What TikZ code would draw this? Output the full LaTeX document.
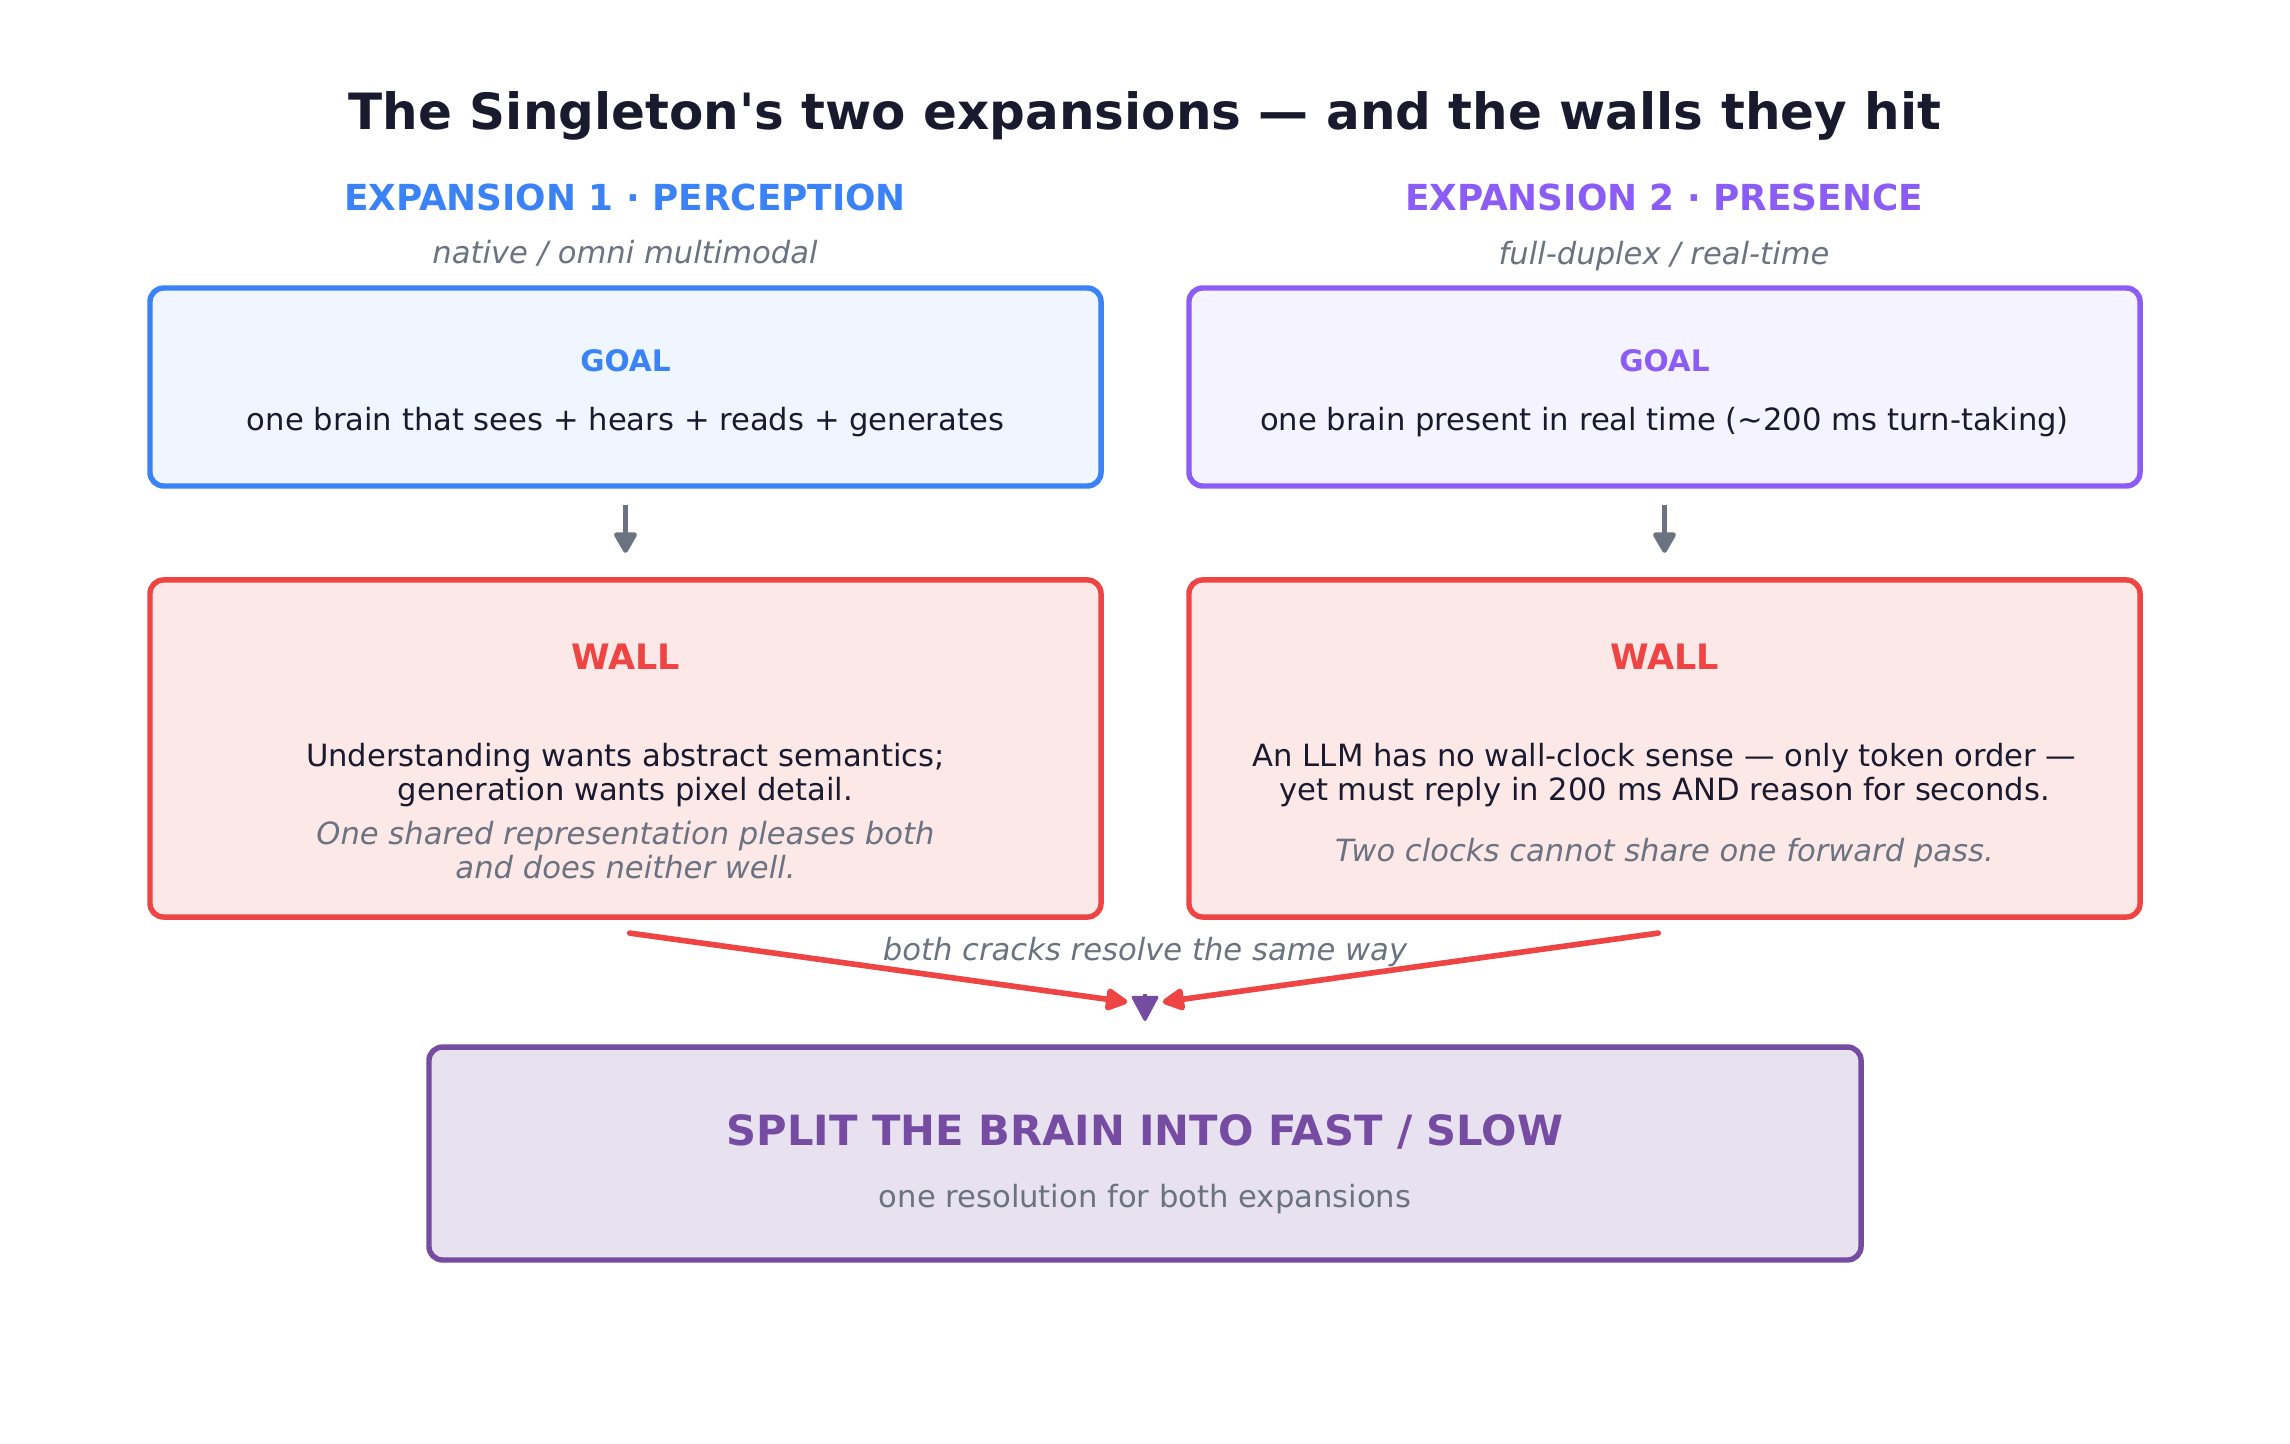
\documentclass[tikz,border=0pt]{standalone}
\usepackage{fontspec}
\setmainfont{DejaVu Sans}
\usepackage{xcolor}
\usepackage{tikz}
\usetikzlibrary{arrows.meta, positioning, calc}

\definecolor{inkdark}{HTML}{1A1A2E}
\definecolor{inkgray}{HTML}{6B7280}
\definecolor{percblue}{HTML}{3B82F6}
\definecolor{percfill}{HTML}{EFF6FF}
\definecolor{presviolet}{HTML}{8B5CF6}
\definecolor{presfill}{HTML}{F5F3FF}
\definecolor{wallred}{HTML}{EF4444}
\definecolor{wallfill}{HTML}{FDE8E8}
\definecolor{splitpurple}{HTML}{764BA2}
\definecolor{splitfill}{HTML}{E8E2F0}

\newcommand{\fs}[1]{\fontsize{#1}{1.12\dimexpr#1pt\relax}\selectfont}

\begin{document}
\begin{tikzpicture}[
    x=0.48pt, y=-0.48pt,
    every node/.style={inner sep=0pt, outer sep=0pt, text=inkdark},
    panel/.style={rectangle, rounded corners=6.5pt, line width=2.6pt, minimum width=456.5pt},
    goalbox/.style={panel, minimum height=95pt},
    wallbox/.style={panel, draw=wallred, fill=wallfill, minimum height=161.8pt},
    header/.style={font=\fs{17.2}\bfseries},
    tag/.style={font=\fs{14.7}\itshape, text=inkgray},
    body/.style={font=\fs{14.7}, align=center},
    flow/.style={-{Triangle[length=11pt, width=12pt, round]}, line width=2.2pt, draw=inkgray},
    crack/.style={-{Triangle[length=12pt, width=11.5pt, round]}, line width=2.7pt, draw=wallred, line cap=round},
    resolve/.style={-{Triangle[length=13pt, width=13.5pt, round]}, line width=1.5pt, draw=splitpurple}
]
    \useasboundingbox (0,0) rectangle (2290,1444);

    % Title
    \node[font=\fs{24}\bfseries] (title) at (1145,116) {The Singleton\textquotesingle s two expansions — and the walls they hit};

    % Column headers
    \node[header, text=percblue] (headperc) at (625,197) {EXPANSION 1 · PERCEPTION};
    \node[tag] (tagperc) at (625,253) {native / omni multimodal};
    \node[header, text=presviolet] (headpres) at (1664,197) {EXPANSION 2 · PRESENCE};
    \node[tag] (tagpres) at (1664,256) {full-duplex / real-time};

    % Goal boxes
    \node[goalbox, draw=percblue, fill=percfill] (goalperc) at (625.5,387) {};
    \node[font=\fs{14.2}\bfseries, text=percblue] at (625.5,361) {GOAL};
    \node[body] at (625.5,422) {one brain that sees + hears + reads + generates};

    \node[goalbox, draw=presviolet, fill=presfill] (goalpres) at (1664.5,387) {};
    \node[font=\fs{14.2}\bfseries, text=presviolet] at (1664.5,361) {GOAL};
    \node[body] at (1664.5,422) {one brain present in real time (\textasciitilde 200 ms turn-taking)};

    % Wall boxes
    \node[wallbox] (wallperc) at (625.5,748.5) {};
    \node[font=\fs{16.8}\bfseries, text=wallred] at (625.5,657) {WALL};
    \node[body] at (625.5,775) {Understanding wants abstract semantics;\\generation wants pixel detail.};
    \node[tag, align=center] at (625.5,850) {One shared representation pleases both\\and does neither well.};

    \node[wallbox] (wallpres) at (1664.5,748.5) {};
    \node[font=\fs{16.8}\bfseries, text=wallred] at (1664.5,657) {WALL};
    \node[body] at (1664.5,775) {An LLM has no wall-clock sense — only token order —\\yet must reply in 200 ms AND reason for seconds.};
    \node[tag] at (1664.5,853) {Two clocks cannot share one forward pass.};

    % Resolution box
    \node[panel, draw=splitpurple, fill=splitfill, minimum width=687.4pt, minimum height=102.2pt] (split) at (1145,1153.5) {};
    \node[font=\fs{20}\bfseries, text=splitpurple] at (1145,1132) {SPLIT THE BRAIN INTO FAST / SLOW};
    \node[font=\fs{14.7}, text=inkgray] at (1145,1199) {one resolution for both expansions};

    % Arrows
    \draw[flow] ([yshift=-9pt]goalperc.south) -- ([yshift=13pt]wallperc.north);
    \draw[flow] ([yshift=-9pt]goalpres.south) -- ([yshift=13pt]wallpres.north);

    \coordinate (merge) at (1145,1004.5);
    \coordinate (mergetop) at (1145,994);
    \draw[crack, shorten >=8.6pt] ([xshift=2pt, yshift=-7.7pt]wallperc.south) -- (merge);
    \draw[crack, shorten >=8.6pt] ([xshift=-3pt, yshift=-7.7pt]wallpres.south) -- (merge);
    \node[tag] (crackslabel) at (1145,952) {both cracks resolve the same way};
    \draw[resolve] (mergetop) -- ([yshift=12.5pt]split.north);
\end{tikzpicture}
\end{document}
